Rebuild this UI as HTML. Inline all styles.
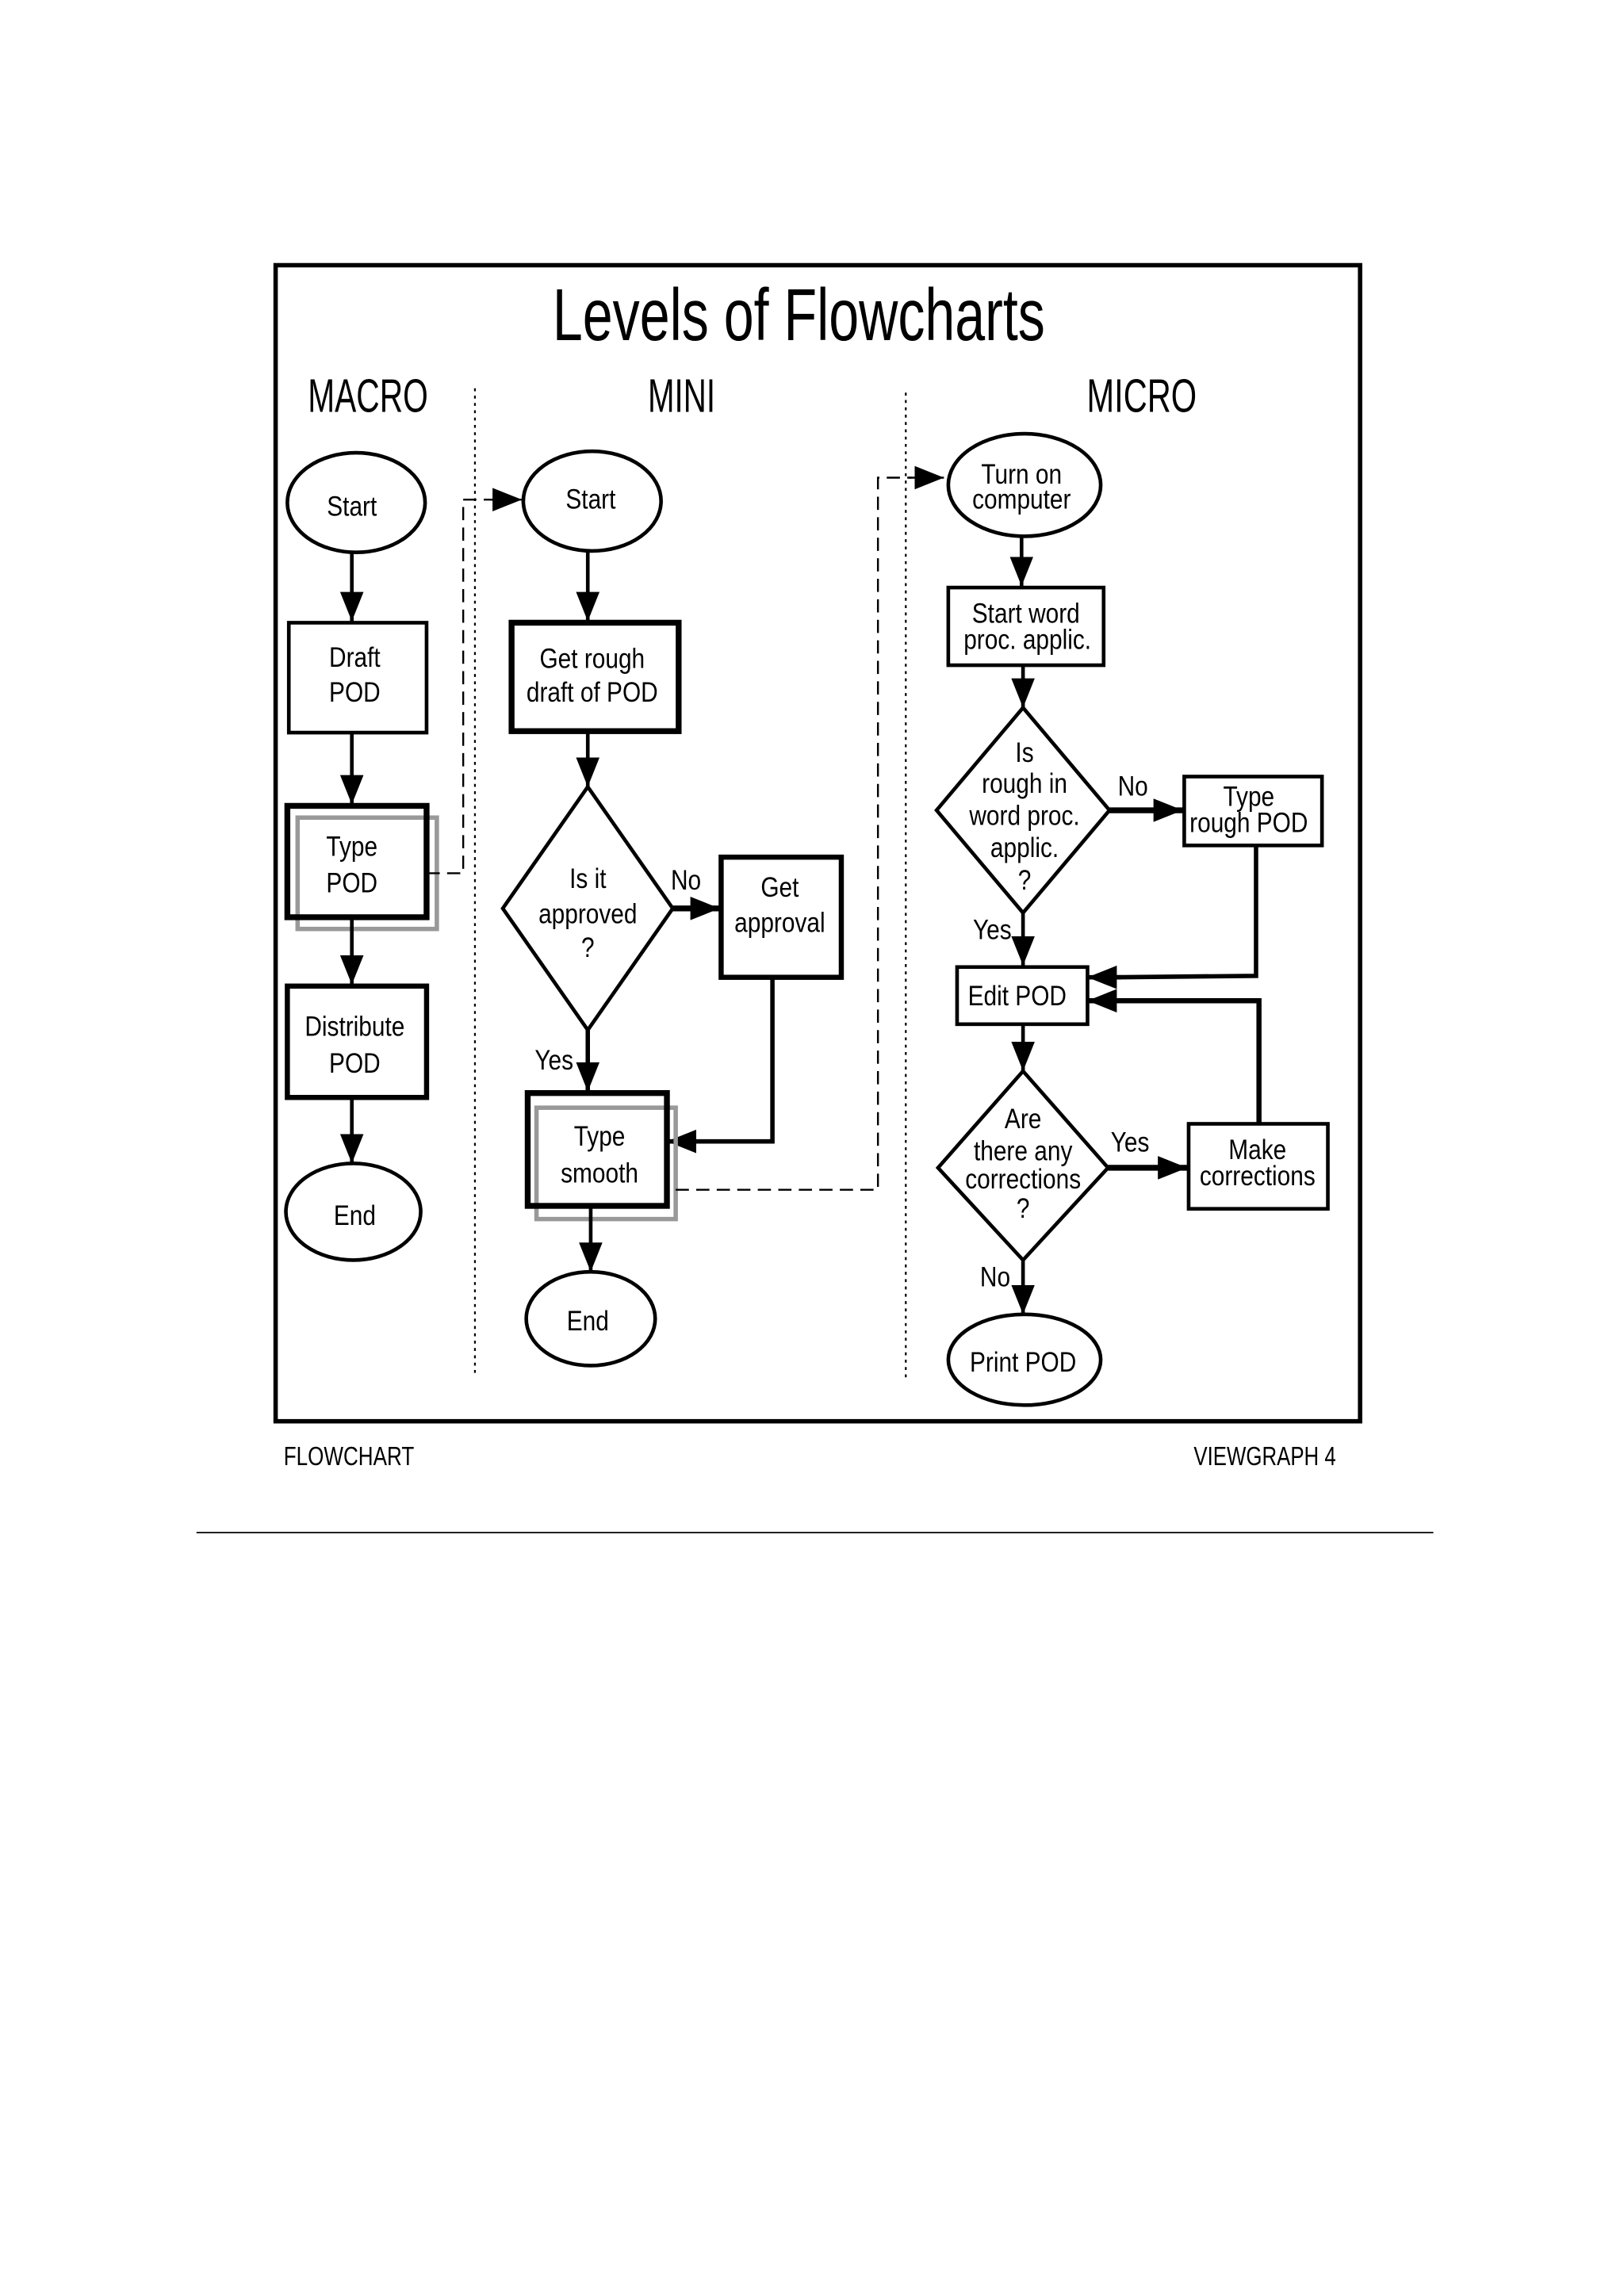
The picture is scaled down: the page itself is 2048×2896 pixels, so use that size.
<!DOCTYPE html>
<html><head><meta charset="utf-8"><style>
html,body{margin:0;padding:0;background:#fff;}
svg{display:block;}
text{font-family:"Liberation Sans Narrow","Liberation Sans",sans-serif;fill:#000;text-anchor:middle;}
</style></head><body>
<svg width="2048" height="2896" viewBox="0 0 1108 1567" xmlns="http://www.w3.org/2000/svg">
<defs>
<marker id="a" markerUnits="userSpaceOnUse" markerWidth="20" markerHeight="16" refX="20" refY="8" orient="auto">
<path d="M0,0 L20,8 L0,16 Z" fill="#000"/></marker>
</defs>
<rect width="1108" height="1567" fill="#fff"/>
<rect x="188" y="181" width="740" height="789" fill="none" stroke="#000" stroke-width="3"/>
<text x="545" y="232" font-size="50" textLength="336" lengthAdjust="spacingAndGlyphs">Levels of Flowcharts</text>
<text x="251" y="281" font-size="32" textLength="82" lengthAdjust="spacingAndGlyphs">MACRO</text>
<text x="465" y="281" font-size="32" textLength="46" lengthAdjust="spacingAndGlyphs">MINI</text>
<text x="779" y="281" font-size="32" textLength="75" lengthAdjust="spacingAndGlyphs">MICRO</text>
<line x1="324" y1="265" x2="324" y2="937" stroke="#000" stroke-width="1.2" stroke-dasharray="2,3"/>
<line x1="618" y1="268" x2="618" y2="940" stroke="#000" stroke-width="1.2" stroke-dasharray="2,3"/>

<g fill="none" stroke="#000" stroke-width="2.5">
<!-- MACRO -->
<ellipse cx="243" cy="343" rx="47" ry="34"/>
<line x1="240" y1="377" x2="240" y2="424" marker-end="url(#a)"/>
<rect x="197" y="425" width="94" height="75"/>
<line x1="240" y1="500" x2="240" y2="549" marker-end="url(#a)"/>
<rect x="203" y="558" width="95" height="76" stroke="#999" stroke-width="3"/>
<rect x="196" y="550" width="95" height="76" stroke-width="4"/>
<line x1="240" y1="626" x2="240" y2="672" marker-end="url(#a)"/>
<rect x="196" y="673" width="95" height="76" stroke-width="3.5"/>
<line x1="240" y1="749" x2="240" y2="794" marker-end="url(#a)"/>
<ellipse cx="241" cy="827" rx="46" ry="33"/>
<polyline points="291,596 316,596 316,341 336,341" stroke-width="1.3" stroke-dasharray="9,5"/>
<line x1="334" y1="341" x2="356" y2="341" stroke-width="1.3" marker-end="url(#a)"/>
<!-- MINI -->
<ellipse cx="404" cy="342" rx="47" ry="34"/>
<line x1="401" y1="376" x2="401" y2="424" marker-end="url(#a)"/>
<rect x="349" y="425" width="114" height="74" stroke-width="4"/>
<line x1="401" y1="499" x2="401" y2="537" marker-end="url(#a)"/>
<polygon points="401,537 459,620 401,703 343,620"/>
<line x1="459" y1="620" x2="491" y2="620" stroke-width="4" marker-end="url(#a)"/>
<rect x="492" y="585" width="82" height="82" stroke-width="3.5"/>
<polyline points="527,667 527,779 470,779" stroke-width="3"/>
<line x1="475" y1="779" x2="455" y2="779" stroke-width="3" marker-end="url(#a)"/>
<line x1="401" y1="703" x2="401" y2="745" stroke-width="3" marker-end="url(#a)"/>
<rect x="366" y="756" width="95" height="76" stroke="#999" stroke-width="3"/>
<rect x="360" y="746" width="95" height="77" stroke-width="4"/>
<line x1="403" y1="823" x2="403" y2="868" marker-end="url(#a)"/>
<ellipse cx="403" cy="900" rx="44" ry="32"/>
<polyline points="461,812 599,812 599,326 622,326" stroke-width="1.3" stroke-dasharray="9,5"/>
<line x1="620" y1="326" x2="644" y2="326" stroke-width="1.3" marker-end="url(#a)"/>
<!-- MICRO -->
<ellipse cx="699" cy="331" rx="52" ry="35"/>
<line x1="697" y1="366" x2="697" y2="400" marker-end="url(#a)"/>
<rect x="647" y="401" width="106" height="53"/>
<line x1="698" y1="454" x2="698" y2="483" marker-end="url(#a)"/>
<polygon points="698,483 757,553 698,623 639,553"/>
<line x1="757" y1="553" x2="807" y2="553" stroke-width="4" marker-end="url(#a)"/>
<rect x="808" y="530" width="94" height="47"/>
<polyline points="857,577 857,666 760,667" stroke-width="3"/>
<line x1="765" y1="667" x2="742" y2="667" stroke-width="3" marker-end="url(#a)"/>
<line x1="698" y1="623" x2="698" y2="659" marker-end="url(#a)"/>
<rect x="653" y="660" width="89" height="39"/>
<polyline points="859,767 859,683 760,683" stroke-width="3.5"/>
<line x1="765" y1="683" x2="742" y2="683" stroke-width="3.5" marker-end="url(#a)"/>
<line x1="698" y1="699" x2="698" y2="731" marker-end="url(#a)"/>
<polygon points="698,731 756,797 698,860 640,797"/>
<line x1="756" y1="797" x2="810" y2="797" stroke-width="4" marker-end="url(#a)"/>
<rect x="811" y="767" width="95" height="58"/>
<line x1="698" y1="860" x2="698" y2="897" marker-end="url(#a)"/>
<ellipse cx="699" cy="928" rx="52" ry="31"/>
</g>

<g font-size="19" transform="scale(0.85,1)">
<text x="282.4" y="352">Start</text>
<text x="284.7" y="455">Draft</text><text x="284.7" y="479">POD</text>
<text x="282.4" y="584">Type</text><text x="282.4" y="609">POD</text>
<text x="284.7" y="707">Distribute</text><text x="284.7" y="732">POD</text>
<text x="284.7" y="836">End</text>
<text x="474.1" y="347">Start</text>
<text x="475.3" y="456">Get rough</text><text x="475.3" y="479">draft of POD</text>
<text x="471.8" y="606">Is it</text><text x="471.8" y="630">approved</text><text x="471.8" y="653">?</text>
<text x="550.6" y="607">No</text>
<text x="625.9" y="612">Get</text><text x="625.9" y="636">approval</text>
<text x="444.7" y="730">Yes</text>
<text x="481.2" y="782">Type</text><text x="481.2" y="807">smooth</text>
<text x="471.8" y="908">End</text>
<text x="820" y="330">Turn on</text><text x="820" y="347">computer</text>
<text x="823.5" y="425">Start word</text><text x="824.7" y="443">proc. applic.</text>
<text x="822.4" y="520">Is</text><text x="822.4" y="541">rough in</text><text x="822.4" y="563">word proc.</text><text x="822.4" y="585">applic.</text><text x="822.4" y="607">?</text>
<text x="909.4" y="543">No</text>
<text x="1002.4" y="550">Type</text><text x="1002.4" y="568">rough POD</text>
<text x="796.5" y="641">Yes</text>
<text x="816.5" y="686">Edit POD</text>
<text x="821.2" y="770">Are</text><text x="821.2" y="792">there any</text><text x="821.2" y="811">corrections</text><text x="821.2" y="831">?</text>
<text x="907.1" y="786">Yes</text>
<text x="1009.4" y="791">Make</text><text x="1009.4" y="809">corrections</text>
<text x="798.8" y="878">No</text>
<text x="821.2" y="936">Print POD</text>
</g>
<text x="238" y="1000" font-size="18" textLength="89" lengthAdjust="spacingAndGlyphs">FLOWCHART</text>
<text x="863" y="1000" font-size="18" textLength="97" lengthAdjust="spacingAndGlyphs">VIEWGRAPH 4</text>
<line x1="134" y1="1046" x2="978" y2="1046" stroke="#000" stroke-width="1"/>
</svg>
</body></html>
